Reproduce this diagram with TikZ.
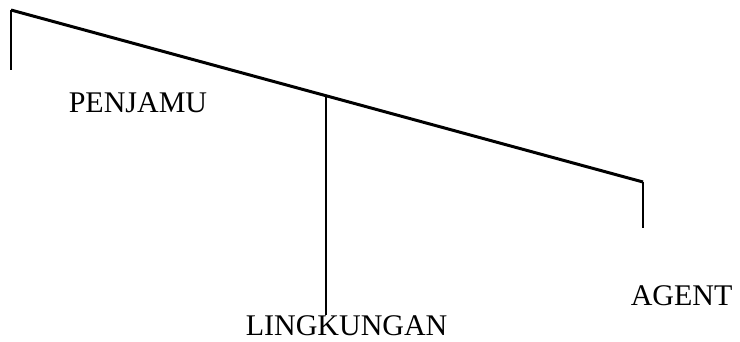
\documentclass[tikz,border=0pt]{standalone}
\usepackage{fontspec}
\setmainfont{Liberation Serif}
\usetikzlibrary{positioning}
\tikzset{label/.style = {anchor=base west, inner sep=0pt, font=\fontsize{30}{30}\selectfont}}

\begin{document}
\begin{tikzpicture}[x=1pt, y=-1pt, line width=1.6pt]
        \useasboundingbox (0,0) rectangle (740,341);
        \coordinate (puncak) at (11,10);
        \coordinate (ujung) at (643,182);
        \coordinate (tengah) at (326,95.7);
        \coordinate (kiribawah) at (11,70);
        \coordinate (kananbawah) at (643,228);
        \coordinate (tengahbawah) at (326,315);
        \draw [line width=3pt] (puncak) -- (ujung);
        \draw (puncak) -- (kiribawah);
        \draw (ujung) -- (kananbawah);
        \draw (tengah) -- (tengahbawah);
        \node [label] (penjamu) at (68,112) {PENJAMU};
        \node [label] (agent) at (630,305) {AGENT};
        \node [label] (lingkungan) at (245,335) {LINGKUNGAN};
      \end{tikzpicture}
\end{document}
